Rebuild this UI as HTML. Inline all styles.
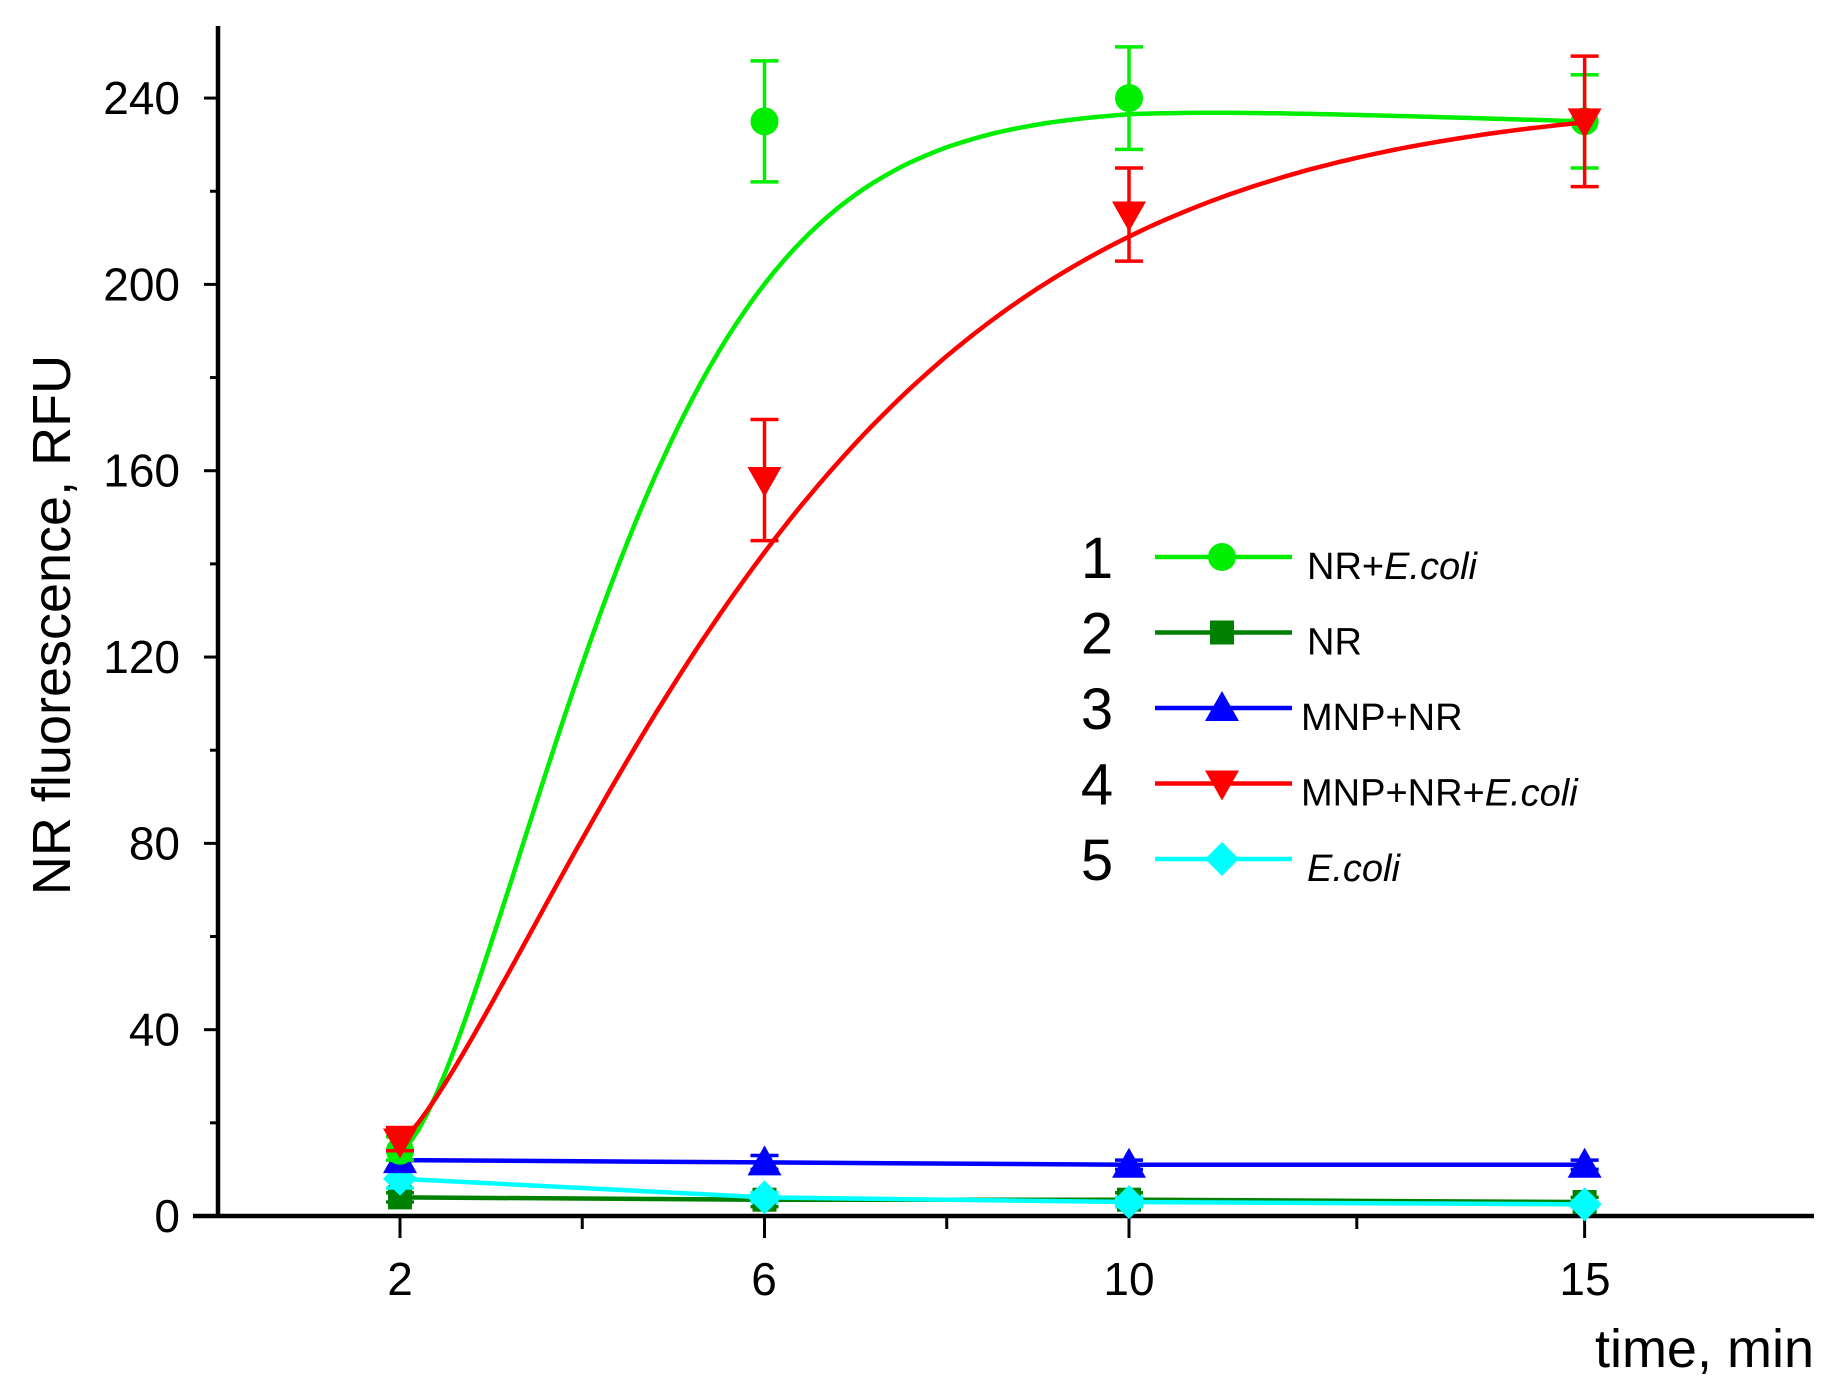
<!DOCTYPE html>
<html><head><meta charset="utf-8"><style>
html,body{margin:0;padding:0;background:#fff;}
svg{display:block;font-family:"Liberation Sans",sans-serif;}
</style></head><body>
<svg id="s" width="1833" height="1394" viewBox="0 0 1833 1394" xmlns="http://www.w3.org/2000/svg">
<g stroke="#000" stroke-width="4.5" fill="none">
<line x1="218" y1="26" x2="218" y2="1218"/>
<line x1="193" y1="1216" x2="1814" y2="1216"/>
</g>
<g id="ticks" stroke="#000" stroke-width="3"></g>
<g font-size="46" fill="#000" text-anchor="end" id="ylab"></g>
<g font-size="46" fill="#000" text-anchor="middle">
<text x="400" y="1295">2</text><text x="764" y="1295">6</text><text x="1129" y="1295">10</text><text x="1585" y="1295">15</text>
</g>
<text x="1814" y="1367" font-size="54" text-anchor="end">time, min</text>
<text transform="translate(70,625) rotate(-90)" font-size="54" text-anchor="middle">NR fluorescence, RFU</text>
<g id="data"></g>
<g id="legend"></g>
</svg>
<script>
const NS="http://www.w3.org/2000/svg";
const X=t=>400+(t-2)*91.125, Y=v=>1216-v*4.658;
function el(p,tag,a,txt){const e=document.createElementNS(NS,tag);for(const k in a)e.setAttribute(k,a[k]);if(txt!==undefined)e.textContent=txt;p.appendChild(e);return e;}
const tk=document.getElementById('ticks'),yl=document.getElementById('ylab');
for(let v=0;v<=250;v+=20){const y=Y(v);const major=v%40==0;el(tk,'line',{x1:major?204:210,y1:y,x2:218,y2:y});if(major)el(yl,'text',{x:180,y:y+16},v);}
[2,6,10,15].forEach(t=>el(tk,'line',{x1:X(t),y1:1216,x2:X(t),y2:1238}));
[4,8,12.5].forEach(t=>el(tk,'line',{x1:X(t),y1:1216,x2:X(t),y2:1229}));
const d=document.getElementById('data');
const G='#00ee00',DG='#008000',B='#0000ff',R='#ff0000',C='#00ffff';
function marker(p,type,x,y,c){
 if(type=='c')el(p,'circle',{cx:x,cy:y,r:14,fill:c});
 if(type=='s')el(p,'rect',{x:x-12,y:y-12,width:24,height:24,fill:c});
 if(type=='u')el(p,'polygon',{points:`${x},${y-17} ${x-17},${y+13} ${x+17},${y+13}`,fill:c});
 if(type=='d')el(p,'polygon',{points:`${x},${y+17} ${x-17},${y-13} ${x+17},${y-13}`,fill:c});
 if(type=='m')el(p,'polygon',{points:`${x},${y-17} ${x+17},${y} ${x},${y+17} ${x-17},${y}`,fill:c});}
function err(c,t,lo,hi){const x=X(t);el(d,'line',{x1:x,y1:Y(lo),x2:x,y2:Y(hi),stroke:c,'stroke-width':3.5});
 [lo,hi].forEach(v=>el(d,'line',{x1:x-14,y1:Y(v),x2:x+14,y2:Y(v),stroke:c,'stroke-width':3.5}));}
function curve(f,c){let s='';for(let t=2;t<=15.001;t+=0.1){s+=(s?'L':'M')+X(t).toFixed(1)+','+Y(f(t)).toFixed(1);}el(d,'path',{d:s,stroke:c,'stroke-width':4.5,fill:'none'});}
function poly(pts,c){el(d,'polyline',{points:pts.map(p=>X(p[0])+','+Y(p[1])).join(' '),stroke:c,'stroke-width':4.5,fill:'none'});}
const ts=[2,6,10,15];
poly([[2,4],[6,3.5],[10,3.5],[15,3]],DG);
poly([[2,8],[6,4],[10,3],[15,2.5]],C);
poly([[2,12],[6,11.5],[10,11],[15,11]],B);
[[4,3,5],[3.5,2,5],[3.5,2,5],[3,2,4]].forEach((v,i)=>{err(DG,ts[i],v[1],v[2]);marker(d,'s',X(ts[i]),Y(v[0]),DG);});
[[8,6,10],[4,3,5],[3,2,4],[2.5,2,3]].forEach((v,i)=>{err(C,ts[i],v[1],v[2]);marker(d,'m',X(ts[i]),Y(v[0]),C);});
[[12,10,14],[11.5,10,13],[11,10,12],[11,10,12]].forEach((v,i)=>{err(B,ts[i],v[1],v[2]);marker(d,'u',X(ts[i]),Y(v[0]),B);});
curve(t=>238-224*Math.exp(-0.222*Math.pow(t-2,1.5))-3*Math.max(0,(t-10)/5),G);
[[14,12,17],[235,222,248],[240,229,251],[235,225,245]].forEach((v,i)=>{err(G,ts[i],v[1],v[2]);marker(d,'c',X(ts[i]),Y(v[0]),G);});
curve(t=>240-224*Math.exp(-0.141*Math.pow(t-2,1.28)),R);
[[16,14,19],[158,145,171],[215,205,225],[235,221,249]].forEach((v,i)=>{err(R,ts[i],v[1],v[2]);marker(d,'d',X(ts[i]),Y(v[0]),R);});
const lg=document.getElementById('legend');
const rows=[['1',G,'c',['NR+','E.coli']],['2',DG,'s',['NR','']],['3',B,'u',['MNP+NR','']],['4',R,'d',['MNP+NR+','E.coli']],['5',C,'m',['','E.coli']]];
rows.forEach((r,i)=>{const y=557+i*75.5;
 el(lg,'text',{x:1097,y:y+21,'font-size':58,'text-anchor':'middle'},r[0]);
 el(lg,'line',{x1:1155,y1:y,x2:1292,y2:y,stroke:r[1],'stroke-width':4.5});
 marker(lg,r[2],1222,y,r[1]);
 const t=el(lg,'text',{x:i==2||i==3?1301:1307,y:y+22,'font-size':38});
 if(r[3][0]){const a=document.createElementNS(NS,'tspan');a.textContent=r[3][0];t.appendChild(a);}
 if(r[3][1]){const b=document.createElementNS(NS,'tspan');b.setAttribute('font-style','italic');b.textContent=r[3][1];t.appendChild(b);}
});
</script>
</body></html>
